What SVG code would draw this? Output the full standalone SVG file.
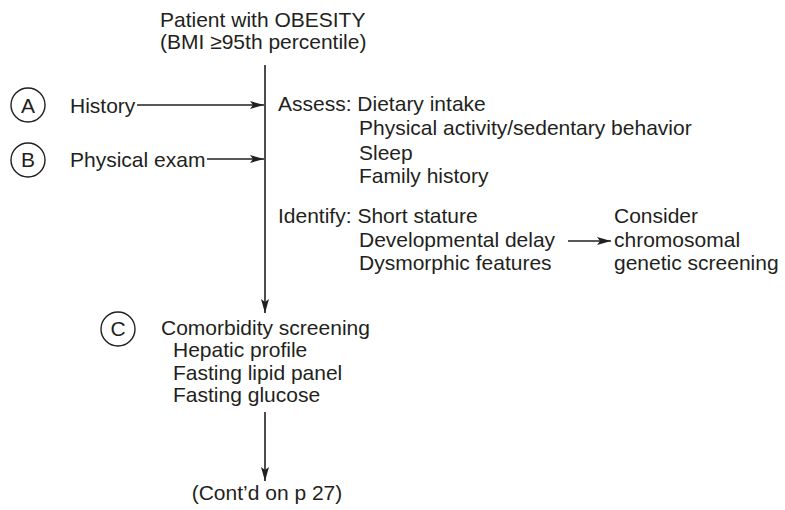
<svg xmlns="http://www.w3.org/2000/svg" width="785" height="510" viewBox="0 0 785 510">
  <style>
    text { font-family: "Liberation Sans", Arial, sans-serif; font-size: 21px; fill: #231f20; }
    .mid { text-anchor: middle; }
    .ring { fill: none; stroke: #231f20; stroke-width: 1.4; }
    .wire { fill: none; stroke: #231f20; stroke-width: 1.6; }
  </style>
  <defs>
    <marker id="head" viewBox="0 0 14 8" refX="14" refY="4" markerWidth="14" markerHeight="8" markerUnits="userSpaceOnUse" orient="auto">
      <path d="M0,0 L14,4 L0,8 L3,4 Z" fill="#231f20"/>
    </marker>
  </defs>
  <rect width="785" height="510" fill="#ffffff"/>

  <g id="connectors">
    <line class="wire" x1="265" y1="65" x2="265" y2="313" marker-end="url(#head)"/>
    <line class="wire" x1="137" y1="105" x2="264" y2="105" marker-end="url(#head)"/>
    <line class="wire" x1="207" y1="159" x2="264" y2="159" marker-end="url(#head)"/>
    <line class="wire" x1="568" y1="241" x2="611" y2="241" marker-end="url(#head)"/>
    <line class="wire" x1="265" y1="412" x2="265" y2="481" marker-end="url(#head)"/>
  </g>

  <g id="start">
    <text x="160" y="27">Patient with OBESITY</text>
    <text x="160" y="49">(BMI ≥95th percentile)</text>
  </g>

  <g id="history">
    <circle class="ring" cx="28" cy="105" r="17"/>
    <text class="mid" x="28" y="113">A</text>
    <text x="70" y="113">History</text>
  </g>

  <g id="exam">
    <circle class="ring" cx="28" cy="160" r="17"/>
    <text class="mid" x="28" y="167">B</text>
    <text x="70" y="167">Physical exam</text>
  </g>

  <g id="assess">
    <text x="278" y="111">Assess: Dietary intake</text>
    <text x="359" y="135">Physical activity/sedentary behavior</text>
    <text x="359" y="160">Sleep</text>
    <text x="359" y="183">Family history</text>
  </g>

  <g id="identify">
    <text x="278" y="223">Identify: Short stature</text>
    <text x="359" y="247">Developmental delay</text>
    <text x="359" y="270">Dysmorphic features</text>
  </g>

  <g id="genetic">
    <text x="614" y="223">Consider</text>
    <text x="614" y="247">chromosomal</text>
    <text x="614" y="270">genetic screening</text>
  </g>

  <g id="comorbidity">
    <circle class="ring" cx="118" cy="329" r="17"/>
    <text class="mid" x="118" y="336">C</text>
    <text x="161" y="335">Comorbidity screening</text>
    <text x="173" y="357">Hepatic profile</text>
    <text x="173" y="380">Fasting lipid panel</text>
    <text x="173" y="402">Fasting glucose</text>
  </g>

  <g id="next">
    <text class="mid" x="267" y="500">(Cont’d on p 27)</text>
  </g>
</svg>
